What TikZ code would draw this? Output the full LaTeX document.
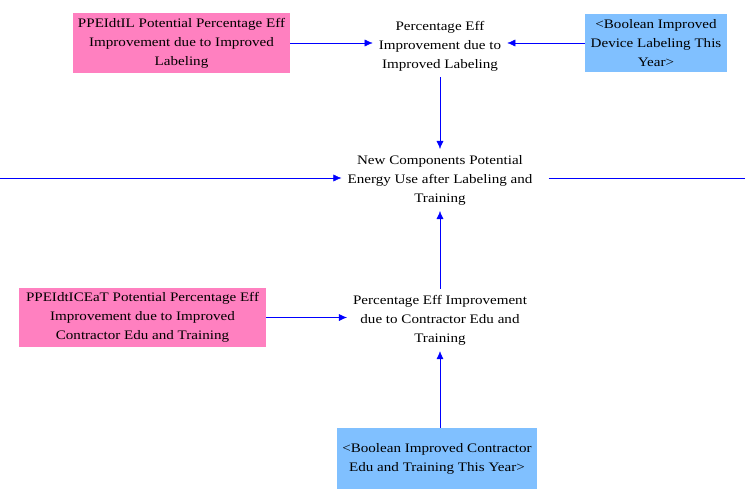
\documentclass[tikz,border=0pt]{standalone}
\usepackage{fontspec}
\setmainfont[FakeStretch=1.16]{Liberation Serif}
\usetikzlibrary{arrows.meta}
\definecolor{constpink}{HTML}{FF80C0}
\definecolor{shadowblue}{HTML}{80C0FF}

\begin{document}
\begin{tikzpicture}[x=1pt, y=-1pt,
  var/.style = {align=center, font=\fontsize{13}{19}\selectfont, inner sep=6pt},
  constbox/.style = {var, fill=constpink, inner sep=0pt},
  shadowbox/.style = {var, fill=shadowblue, inner sep=0pt},
  link/.style = {draw=blue, -{Latex[length=8pt,width=7pt]}}]
\useasboundingbox (0,0) rectangle (745,501);

% Free ends of the flow line
\coordinate (Lin) at (0,178);
\coordinate (Rout) at (745,178);

% Upper part: labeling
\node[constbox, minimum width=217pt, minimum height=60pt] (ppeil) at (181.5,43)
  {PPEIdtIL Potential Percentage Eff\\Improvement due to Improved\\Labeling};
\node[var] (pctlab) at (440,46) {Percentage Eff\\Improvement due to\\Improved Labeling};
\node[shadowbox, minimum width=142pt, minimum height=58pt] (boollab) at (656,43)
  {<Boolean Improved\\Device Labeling This\\Year>};

% Middle
\node[var] (newcomp) at (440,180)
  {New Components Potential\\Energy Use after Labeling and\\Training};

% Lower part: contractor training
\node[constbox, minimum width=247pt, minimum height=59pt] (ppeicet) at (142.5,317.5)
  {PPEIdtICEaT Potential Percentage Eff\\Improvement due to Improved\\Contractor Edu and Training};
\node[var] (pcttrain) at (440,320)
  {Percentage Eff Improvement\\due to Contractor Edu and\\Training};
\node[shadowbox, minimum width=200pt, minimum height=61pt] (booltrain) at (437,458.5)
  {<Boolean Improved Contractor\\Edu and Training This Year>};

% Links
\draw[link] (ppeil) -- (pctlab.west |- ppeil);
\draw[link] (boollab) -- (pctlab.east |- boollab);
\draw[link] (pctlab) -- (newcomp);
\draw[link] (Lin) -- (newcomp.west |- Lin);
\draw[draw=blue, shorten <=10pt] (newcomp.east |- Rout) -- (Rout);
\draw[link] (ppeicet) -- (pcttrain.west |- ppeicet);
\draw[link] (booltrain.north -| pcttrain) -- (pcttrain);
\draw[link] (pcttrain) -- (newcomp);

\end{tikzpicture}
\end{document}
